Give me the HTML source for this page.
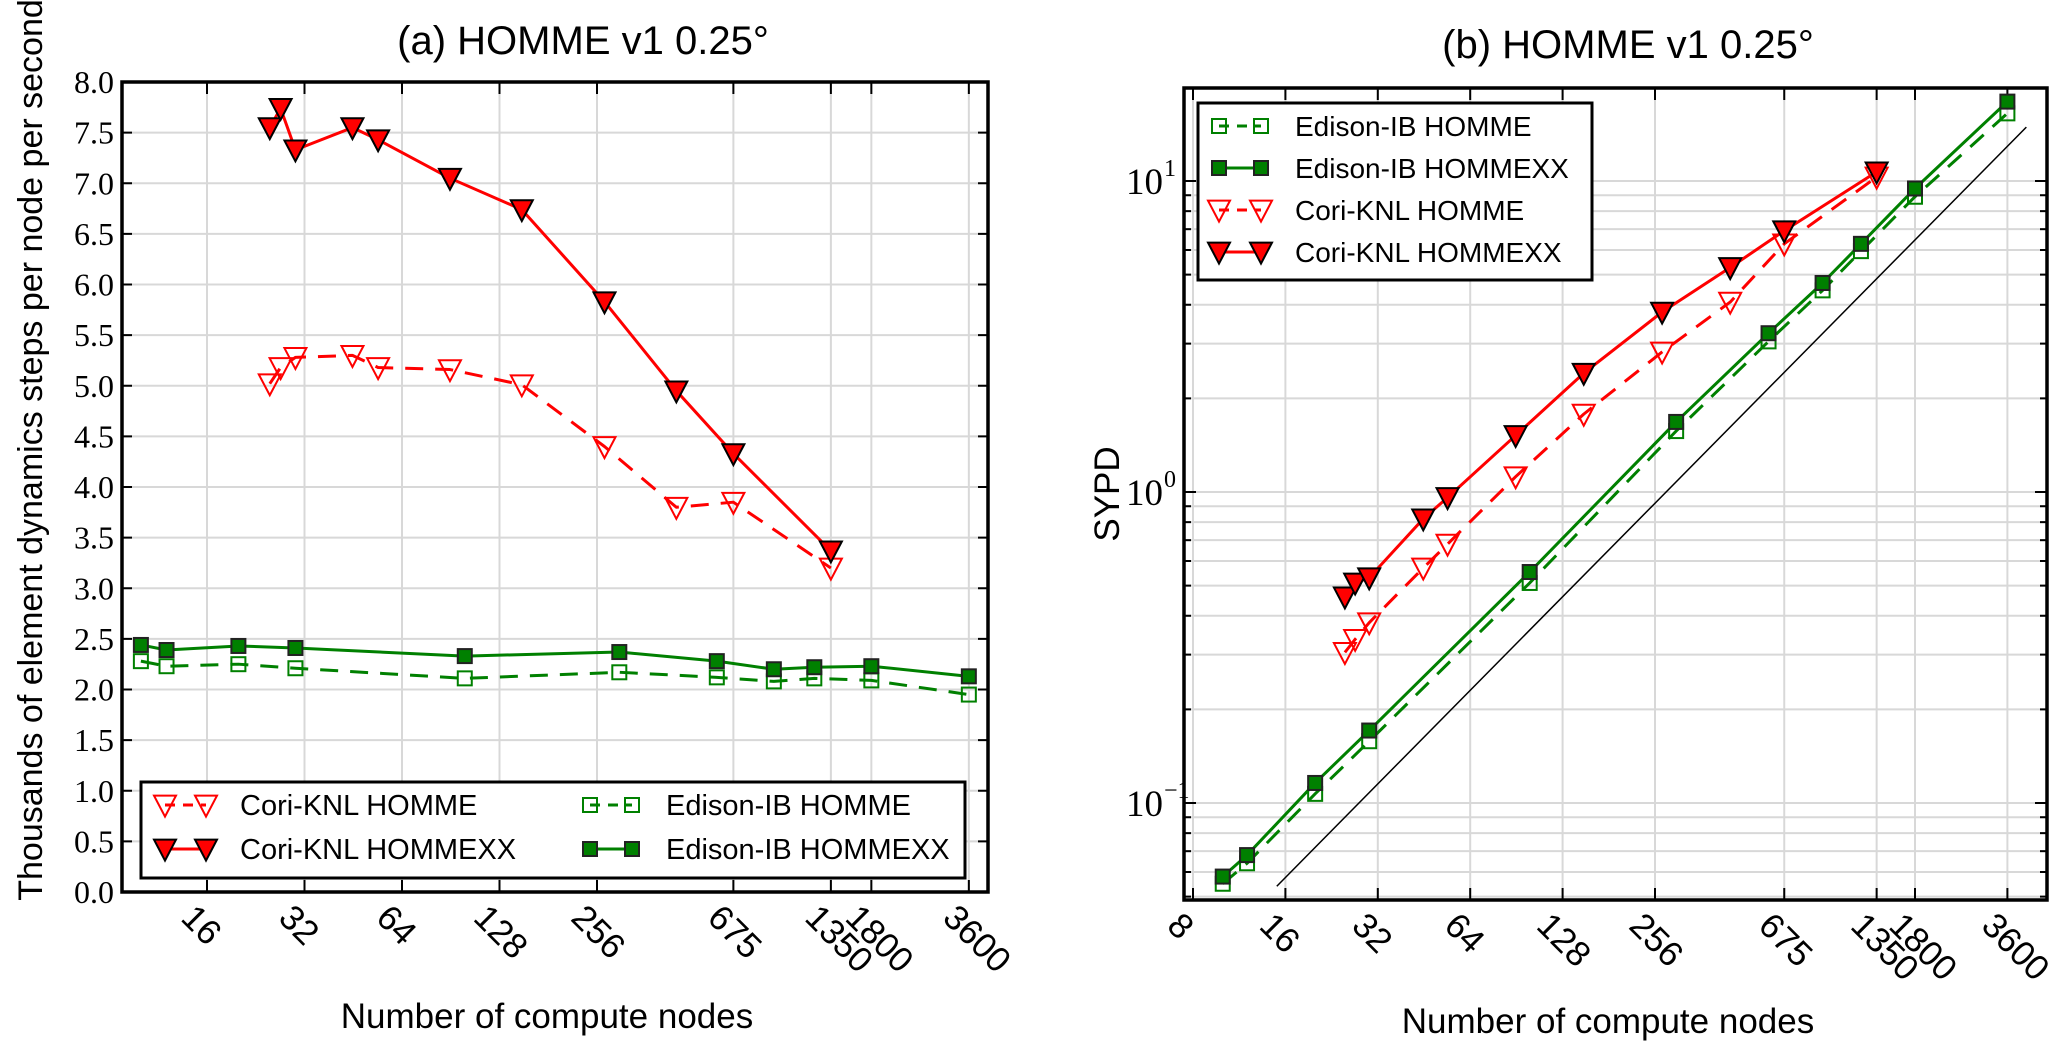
<!DOCTYPE html>
<html><head><meta charset="utf-8">
<style>
html,body{margin:0;padding:0;background:#fff;}
svg{display:block;}
.sans{font-family:"Liberation Sans",Arial,sans-serif;}
.serif{font-family:"Liberation Serif","DejaVu Serif",serif;}
</style></head>
<body>
<svg id="fig" width="2067" height="1056" viewBox="0 0 2067 1056" xmlns="http://www.w3.org/2000/svg"></svg>
<script>
// ---- data ----
const coriNodes = [25, 27, 30, 45, 54, 90, 150, 270, 450, 675, 1350];
const edisonNodes = [10, 12, 20, 30, 100, 300, 600, 900, 1200, 1800, 3600];
// panel (a): thousands of element dynamics steps per node per second
const coriHommeA = [5.02, 5.18, 5.28, 5.30, 5.18, 5.16, 5.01, 4.40, 3.80, 3.85, 3.20];
const coriHommexxA = [7.55, 7.74, 7.33, 7.55, 7.43, 7.05, 6.74, 5.83, 4.95, 4.33, 3.37];
const edisonHommeA = [2.28, 2.23, 2.25, 2.21, 2.11, 2.17, 2.12, 2.08, 2.11, 2.09, 1.95];
const edisonHommexxA = [2.44, 2.39, 2.43, 2.41, 2.33, 2.37, 2.28, 2.20, 2.22, 2.23, 2.13];
// panel (b): SYPD
const coriHommeB = [0.305, 0.336, 0.38, 0.57, 0.68, 1.12, 1.78, 2.82, 4.08, 6.28, 10.3];
const coriHommexxB = [0.46, 0.51, 0.53, 0.82, 0.96, 1.52, 2.41, 3.79, 5.27, 6.92, 10.7];
const edisonHommeB = [0.055, 0.064, 0.107, 0.158, 0.51, 1.57, 3.05, 4.45, 5.95, 8.9, 16.5];
const edisonHommexxB = [0.058, 0.068, 0.116, 0.171, 0.553, 1.68, 3.24, 4.70, 6.28, 9.46, 18.0];
const idealNodes = [15, 4150];
const idealSypd = [0.054, 14.9];
// ticks
const xTicksA = [16, 32, 64, 128, 256, 675, 1350, 1800, 3600];
const xTicksB = [8, 16, 32, 64, 128, 256, 675, 1350, 1800, 3600];
const yTicksA = [0,0.5,1,1.5,2,2.5,3,3.5,4,4.5,5,5.5,6,6.5,7,7.5,8];
const yTicksBexp = [-1, 0, 1];

const NS = "http://www.w3.org/2000/svg";
const svg = document.getElementById('fig');
function mk(tag, attrs, parent){
  const e = document.createElementNS(NS, tag);
  for (const k in attrs) e.setAttribute(k, attrs[k]);
  (parent || svg).appendChild(e);
  return e;
}
const RED = '#ff0000', GREEN = '#008000', GRID = '#d8d8d8';

const A = {l:122, r:988, t:82, b:892};
const xA = n => 207 + 97.5 * Math.log2(n / 16);
const yA = v => 892 - v * 101.25;
const B = {l:1184, r:2047, t:88, b:900};
const xB = n => 1193 + 92.4 * Math.log2(n / 8);
const yB = v => 492 - 311 * Math.log10(v);

function tri(g, x, y, filled, color, name){
  const s = 11;
  const p = mk('polygon', {points:`${x-s},${y-s*0.85} ${x+s},${y-s*0.85} ${x},${y+s*1.05}`,
    fill: filled ? color : '#fff', 'fill-opacity': filled ? 1 : 0,
    stroke: filled ? '#000' : color, 'stroke-width': 2}, g);
  
  
}
function sq(g, x, y, filled, color, name){
  const s = 7;
  const p = mk('rect', {x:x-s, y:y-s, width:2*s, height:2*s,
    fill: filled ? color : 'none', stroke: filled ? '#222' : color, 'stroke-width': 2}, g);
  
  
}
function series(xs, ys, fx, fy, color, dashed, marker, filled, name){
  const g = mk('g', {});
  
  
  const pts = xs.map((n,i)=>`${fx(n)},${fy(ys[i])}`).join(' ');
  const l = mk('polyline', {points:pts, fill:'none', stroke:color, 'stroke-width':3,
    'stroke-dasharray': dashed ? '18,12' : 'none', 'stroke-linejoin':'round'}, g);
  
  
  xs.forEach((n,i)=>{
    if (marker==='tri') tri(g, fx(n), fy(ys[i]), filled, color, name + '-point');
    else sq(g, fx(n), fy(ys[i]), filled, color, name + '-point');
  });
}

// ================= Panel A =================
const gA = mk('g', {});


xTicksA.forEach(n=>{
  const l = mk('line', {x1:xA(n), x2:xA(n), y1:A.t, y2:A.b, stroke:GRID, 'stroke-width':2}, gA);
  
  
});
yTicksA.forEach(v=>{
  const l = mk('line', {x1:A.l, x2:A.r, y1:yA(v), y2:yA(v), stroke:GRID, 'stroke-width':2}, gA);
  
  
});
series(edisonNodes, edisonHommeA, xA, yA, GREEN, true, 'sq', false, 'edison-homme-a');
series(edisonNodes, edisonHommexxA, xA, yA, GREEN, false, 'sq', true, 'edison-hommexx-a');
series(coriNodes, coriHommeA, xA, yA, RED, true, 'tri', false, 'cori-homme-a');
series(coriNodes, coriHommexxA, xA, yA, RED, false, 'tri', true, 'cori-hommexx-a');
yTicksA.forEach(v=>{
  mk('line', {x1:A.l, x2:A.l+10, y1:yA(v), y2:yA(v), stroke:'#000', 'stroke-width':2}, gA);
  mk('line', {x1:A.r-10, x2:A.r, y1:yA(v), y2:yA(v), stroke:'#000', 'stroke-width':2}, gA);
  const t = mk('text', {x:A.l-8, y:yA(v)+11, 'text-anchor':'end', 'font-size':32, class:'serif'}, gA);
  t.textContent = v.toFixed(1);
  
  
});
xTicksA.forEach(n=>{
  mk('line', {x1:xA(n), x2:xA(n), y1:A.b-12, y2:A.b, stroke:'#000', 'stroke-width':2}, gA);
  mk('line', {x1:xA(n), x2:xA(n), y1:A.t, y2:A.t+12, stroke:'#000', 'stroke-width':2}, gA);
  const x0 = xA(n) - 12, y0 = A.b + 12;
  const t = mk('text', {x:0, y:0, 'font-size':35, class:'sans', transform:`translate(${x0},${y0}) rotate(45) translate(0,22)`}, gA);
  t.textContent = n;
  
  
});
mk('rect', {x:A.l, y:A.t, width:A.r-A.l, height:A.b-A.t, fill:'none', stroke:'#000', 'stroke-width':3.5}, gA);
const lgA = mk('g', {});


mk('rect', {x:141, y:782, width:824, height:96, fill:'#fff', stroke:'#000', 'stroke-width':3}, lgA);
const legA = [
  {x1:165,x2:206,tx:240,y:805,txt:'Cori-KNL HOMME',c:RED,d:true,m:'tri',f:false},
  {x1:165,x2:206,tx:240,y:849,txt:'Cori-KNL HOMMEXX',c:RED,d:false,m:'tri',f:true},
  {x1:590,x2:632,tx:666,y:805,txt:'Edison-IB HOMME',c:GREEN,d:true,m:'sq',f:false},
  {x1:590,x2:632,tx:666,y:849,txt:'Edison-IB HOMMEXX',c:GREEN,d:false,m:'sq',f:true},
];
legA.forEach(e=>{
  const g = mk('g', {}, lgA);
  
  
  mk('line', {x1:e.x1, x2:e.x2, y1:e.y, y2:e.y, stroke:e.c, 'stroke-width':3, 'stroke-dasharray': e.d ? '10,8':'none'}, g);
  if (e.m==='tri'){ tri(g,e.x1,e.y,e.f,e.c,'legend-marker'); tri(g,e.x2,e.y,e.f,e.c,'legend-marker'); }
  else { sq(g,e.x1,e.y,e.f,e.c,'legend-marker'); sq(g,e.x2,e.y,e.f,e.c,'legend-marker'); }
  const t = mk('text', {x:e.tx, y:e.y+10, 'font-size':29, class:'sans'}, g);
  t.textContent = e.txt;
  
  
});
let t;
t = mk('text', {x:583, y:54, 'text-anchor':'middle', 'font-size':40, class:'sans'});
t.textContent = '(a)  HOMME v1 0.25°';


t = mk('text', {x:547, y:1028, 'text-anchor':'middle', 'font-size':35, class:'sans'});
t.textContent = 'Number of compute nodes';


t = mk('text', {x:0, y:0, 'text-anchor':'middle', 'font-size':34, class:'sans', transform:'translate(42,450) rotate(-90)'});
t.textContent = 'Thousands of element  dynamics steps per node per  second';



// ================= Panel B =================
const gB = mk('g', {});


xTicksB.forEach(n=>{
  const l = mk('line', {x1:xB(n), x2:xB(n), y1:B.t, y2:B.b, stroke:GRID, 'stroke-width':2}, gB);
  
  
});
for (let e=-2; e<=1; e++){
  for (let m=1; m<=9; m++){
    const v = m*Math.pow(10,e);
    const y = yB(v);
    if (y < B.t || y > B.b) continue;
    const l = mk('line', {x1:B.l, x2:B.r, y1:y, y2:y, stroke:GRID, 'stroke-width':2}, gB);
    
    
    const len = m===1 ? 12 : 7;
    mk('line', {x1:B.l, x2:B.l+len, y1:y, y2:y, stroke:'#000', 'stroke-width':2}, gB);
    mk('line', {x1:B.r-len, x2:B.r, y1:y, y2:y, stroke:'#000', 'stroke-width':2}, gB);
  }
}
const il = mk('line', {x1:xB(idealNodes[0]), y1:yB(idealSypd[0]), x2:xB(idealNodes[1]), y2:yB(idealSypd[1]), stroke:'#000', 'stroke-width':1.5}, gB);


series(edisonNodes, edisonHommeB, xB, yB, GREEN, true, 'sq', false, 'edison-homme-b');
series(edisonNodes, edisonHommexxB, xB, yB, GREEN, false, 'sq', true, 'edison-hommexx-b');
series(coriNodes, coriHommeB, xB, yB, RED, true, 'tri', false, 'cori-homme-b');
series(coriNodes, coriHommexxB, xB, yB, RED, false, 'tri', true, 'cori-hommexx-b');
xTicksB.forEach(n=>{
  mk('line', {x1:xB(n), x2:xB(n), y1:B.b-12, y2:B.b, stroke:'#000', 'stroke-width':2}, gB);
  mk('line', {x1:xB(n), x2:xB(n), y1:B.t, y2:B.t+12, stroke:'#000', 'stroke-width':2}, gB);
  const x0 = xB(n) - 12, y0 = B.b + 12;
  const tt = mk('text', {x:0, y:0, 'font-size':35, class:'sans', transform:`translate(${x0},${y0}) rotate(45) translate(0,22)`}, gB);
  tt.textContent = n;
  
  
});
yTicksBexp.forEach(e=>{
  const tt = mk('text', {x:B.l-21, y:yB(Math.pow(10,e))+13, 'text-anchor':'end', 'font-size':37, class:'serif'}, gB);
  tt.textContent = '10';
  
  
  const sup = mk('text', {x:B.l-20, y:yB(Math.pow(10,e))-5, 'text-anchor':'start', 'font-size':24, class:'serif'}, gB);
  sup.textContent = e===-1 ? '−1' : String(e);
  
  
});
mk('rect', {x:B.l, y:B.t, width:B.r-B.l, height:B.b-B.t, fill:'none', stroke:'#000', 'stroke-width':3.5}, gB);
const lgB = mk('g', {});


mk('rect', {x:1198, y:103, width:394, height:177, fill:'#fff', stroke:'#000', 'stroke-width':3}, lgB);
const legB = [
  {y:126,txt:'Edison-IB HOMME',c:GREEN,d:true,m:'sq',f:false},
  {y:168,txt:'Edison-IB HOMMEXX',c:GREEN,d:false,m:'sq',f:true},
  {y:210,txt:'Cori-KNL HOMME',c:RED,d:true,m:'tri',f:false},
  {y:252,txt:'Cori-KNL HOMMEXX',c:RED,d:false,m:'tri',f:true},
];
legB.forEach(e=>{
  const g = mk('g', {}, lgB);
  
  
  mk('line', {x1:1219, x2:1261, y1:e.y, y2:e.y, stroke:e.c, 'stroke-width':3, 'stroke-dasharray': e.d ? '10,8':'none'}, g);
  if (e.m==='tri'){ tri(g,1219,e.y,e.f,e.c,'legend-marker'); tri(g,1261,e.y,e.f,e.c,'legend-marker'); }
  else { sq(g,1219,e.y,e.f,e.c,'legend-marker'); sq(g,1261,e.y,e.f,e.c,'legend-marker'); }
  const tt = mk('text', {x:1295, y:e.y+10, 'font-size':28, class:'sans'}, g);
  tt.textContent = e.txt;
  
  
});
t = mk('text', {x:1628, y:58, 'text-anchor':'middle', 'font-size':40, class:'sans'});
t.textContent = '(b)  HOMME v1 0.25°';


t = mk('text', {x:1608, y:1033, 'text-anchor':'middle', 'font-size':35, class:'sans'});
t.textContent = 'Number of compute nodes';


t = mk('text', {x:0, y:0, 'text-anchor':'middle', 'font-size':35, class:'sans', transform:'translate(1119,494) rotate(-90)'});
t.textContent = 'SYPD';


</script>
</body></html>
